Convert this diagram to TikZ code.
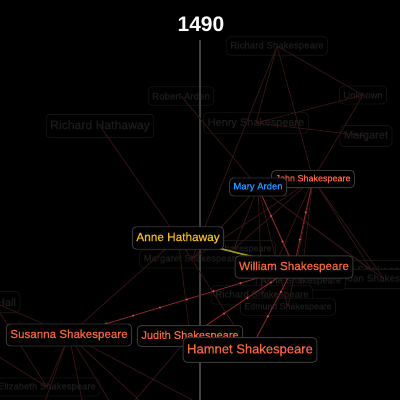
\documentclass[tikz,border=0pt]{standalone}
\usepackage{fontspec}
\setmainfont{Liberation Sans}
\newfontfamily\labelfont{Liberation Sans}[FakeBold=0.7]
\usepackage{tikz}
\usetikzlibrary{positioning}
\definecolor{heirred}{RGB}{240,102,64}
\definecolor{ardenblue}{RGB}{30,150,255}
\definecolor{annegold}{RGB}{240,185,40}
\definecolor{boxgray}{RGB}{56,56,56}
\definecolor{ghostline}{RGB}{20,20,20}
\definecolor{ghosttext}{RGB}{28,28,28}
\definecolor{linkred}{RGB}{50,21,21}
\definecolor{heirline}{RGB}{125,42,42}
\definecolor{heirdot}{RGB}{232,72,72}
\definecolor{spousegold}{RGB}{160,150,20}
\definecolor{axisgray}{RGB}{66,66,66}
\pgfdeclarelayer{back}
\pgfdeclarelayer{links}
\pgfsetlayers{back,links,main}

\begin{document}
\begin{tikzpicture}[
      x=1pt, y=-1pt,
      person/.style = {rectangle, draw=boxgray, rounded corners=4pt,
                       fill=black, line width=0.9pt, inner xsep=4pt,
                       inner ysep=0pt,
                       font=\labelfont\fontsize{#1}{#1}\selectfont,
                       minimum height={#1pt*1.9}},
      ghost/.style  = {person=#1, draw=ghostline, text=ghosttext,
                       line width=0.7pt},
      link/.style   = {draw=linkred, line width=0.8pt},
      heir/.style   = {draw=heirline, line width=0.9pt,
                       postaction={draw=heirdot, line width=2.3pt,
                                   line cap=round,
                                   dash pattern=on 0pt off 28pt}},
      spouse/.style = {draw=spousegold, line width=1.6pt},
      axis/.style   = {draw=axisgray, line width=1.5pt}
    ]
    \path[use as bounding box] (0,0) rectangle (400,400);

    % faded relatives
    \begin{pgfonlayer}{back}
    \fill[black] (0,0) rectangle (400,400);
    \node[ghost=9.7]  (rsh)  at (277,46)  {Richard Shakespeare};
    \node[ghost=9.7]  (rar)  at (181,96)  {Robert Arden};
    \node[ghost=9.4]  (unk)  at (363,95)  {Unknown};
    \node[ghost=10.9] (hsh)  at (256,123) {Henry Shakespeare};
    \node[ghost=11]   (mgt)  at (366,136) {Margaret};
    \node[ghost=12.2] (rha)  at (100,126) {Richard Hathaway};
    \node[ghost=9]    (joa1) at (234,249) {Joan Shakespeare};
    \node[ghost=9.5]  (msh)  at (192,259) {Margaret Shakespeare};
    \node[ghost=11]   (gil)  at (372,271) {Gilbert Shakespeare};
    \node[ghost=10]   (joa)  at (384,279) {Joan Shakespeare};
    \node[ghost=9.5]  (ash)  at (301,281) {Anne Shakespeare};
    \node[ghost=9.7]  (ric)  at (262,295) {Richard Shakespeare};
    \node[ghost=8.8]  (edm)  at (288,307) {Edmund Shakespeare};
    \node[ghost=11]   (hal)  at (-7,302)  {John Hall};
    \node[ghost=9.5]  (eli)  at (47,387)  {Elizabeth Shakespeare};
    \end{pgfonlayer}

    % main family
    \node[person=9, text=heirred]     (jsh) at (313,179) {John Shakespeare};
    \node[person=9.5, text=ardenblue] (mar) at (258,187) {Mary Arden};
    \node[person=11.8, text=annegold] (ahw) at (178,238) {Anne Hathaway};
    \node[person=11.7, text=heirred]  (wsh) at (294,267) {William Shakespeare};
    \node[person=11.6, text=heirred]  (ssh) at (69,335)  {Susanna Shakespeare};
    \node[person=11, text=heirred]    (jud) at (190,336) {Judith Shakespeare};
    \node[person=13, text=heirred]    (ham) at (250,350) {Hamnet Shakespeare};

    \node[text=white, font=\bfseries\fontsize{21}{21}\selectfont]
         (year) at (201,24) {1490};

    \coordinate (atop) at (200,40);
    \coordinate (abot) at (200,400);
    \coordinate (off1) at (-20,345);
    \coordinate (bot1) at (40,415);
    \coordinate (bot2) at (85,415);
    \coordinate (bot3) at (118,415);
    \coordinate (bot4) at (155,415);
    \coordinate (bot5) at (215,412);
    \coordinate (bot6) at (125,412);

    \begin{pgfonlayer}{links}
    \draw[axis] (atop) -- (abot);
    \draw[link] (rsh.center) -- (hsh.center)  (rsh.center) -- (jsh.center)
                (rsh.center) -- (unk.center)  (unk.center) -- (hsh.center)
                (unk.center) -- (jsh.center)  (hsh.center) -- (mgt.center)
                (rar.center) -- (mar.center)  (rsh.center) -- (msh.center)
                (rha.center) -- (ahw.center);
    \draw[link] (jsh.center) -- (gil.center)  (jsh.center) -- (joa.center)
                (jsh.center) -- (ash.center)  (jsh.center) -- (ric.center)
                (jsh.center) -- (edm.center)  (jsh.center) -- (msh.center)
                (jsh.center) -- (joa1.center)
                (mar.center) -- (gil.center)  (mar.center) -- (joa.center)
                (mar.center) -- (ash.center)  (mar.center) -- (ric.center)
                (mar.center) -- (edm.center)  (mar.center) -- (msh.center)
                (mar.center) -- (joa1.center);
    \draw[link] (ahw.center) -- (ssh.center)  (ahw.center) -- (jud.center)
                (ahw.center) -- (ham.center)  (hal.center) -- (ssh.center)
                (hal.center) -- (eli.center)  (ssh.center) -- (eli.center)
                (off1) -- (eli.center)        (ssh.center) -- (bot1)
                (ssh.center) -- (bot2)        (ssh.center) -- (bot3)
                (ssh.center) -- (bot4)        (ssh.center) -- (bot5)
                (jud.center) -- (bot6);
    \draw[heir] (wsh.center) -- (mar.center);
    \draw[heir] (wsh.center) -- (jsh.center);
    \draw[heir] (wsh.center) -- (ssh.center);
    \draw[heir] (wsh.center) -- (jud.center);
    \draw[heir] (wsh.center) -- (ham.center);
    \draw[spouse] (ahw.center) -- (wsh.center);
    \end{pgfonlayer}
  \end{tikzpicture}
\end{document}
